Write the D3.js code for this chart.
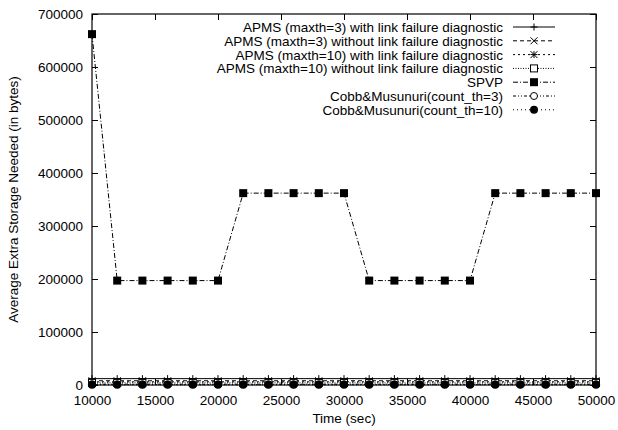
<!DOCTYPE html>
<html>
<head>
<meta charset="utf-8">
<script src="https://cdn.jsdelivr.net/npm/d3@7"></script>
<style>
  body { margin: 0; background: #fff; }
  text { font-family: "Liberation Sans", Arial, sans-serif; fill: #000; }
</style>
</head>
<body>
<svg id="chart" width="618" height="430"></svg>
<script>
var times = [10000, 12000, 14000, 16000, 18000, 20000, 22000, 24000, 26000, 28000, 30000,
             32000, 34000, 36000, 38000, 40000, 42000, 44000, 46000, 48000, 50000];

var seriesNames = ["APMS (maxth=3) with link failure diagnostic",
                   "APMS (maxth=3) without link failure diagnostic",
                   "APMS (maxth=10) with link failure diagnostic",
                   "APMS (maxth=10) without link failure diagnostic",
                   "SPVP",
                   "Cobb&Musunuri(count_th=3)",
                   "Cobb&Musunuri(count_th=10)"];

var apms3With = [12000, 12000, 12000, 12000, 12000, 12000, 12000, 12000, 12000, 12000, 12000,
                 12000, 12000, 12000, 12000, 12000, 12000, 12000, 12000, 12000, 12000];
var apms3Without = [8000, 8000, 8000, 8000, 8000, 8000, 8000, 8000, 8000, 8000, 8000,
                    8000, 8000, 8000, 8000, 8000, 8000, 8000, 8000, 8000, 8000];
var apms10With = [6000, 6000, 6000, 6000, 6000, 6000, 6000, 6000, 6000, 6000, 6000,
                  6000, 6000, 6000, 6000, 6000, 6000, 6000, 6000, 6000, 6000];
var apms10Without = [4000, 4000, 4000, 4000, 4000, 4000, 4000, 4000, 4000, 4000, 4000,
                     4000, 4000, 4000, 4000, 4000, 4000, 4000, 4000, 4000, 4000];
var spvp = [662000, 197000, 197000, 197000, 197000, 197000, 362000, 362000, 362000, 362000, 362000,
            197000, 197000, 197000, 197000, 197000, 362000, 362000, 362000, 362000, 362000];
var cobb3 = [1500, 1500, 1500, 1500, 1500, 1500, 1500, 1500, 1500, 1500, 1500,
             1500, 1500, 1500, 1500, 1500, 1500, 1500, 1500, 1500, 1500];
var cobb10 = [500, 500, 500, 500, 500, 500, 500, 500, 500, 500, 500,
              500, 500, 500, 500, 500, 500, 500, 500, 500, 500];

var xTicks = [10000, 15000, 20000, 25000, 30000, 35000, 40000, 45000, 50000];
var yTicks = [0, 100000, 200000, 300000, 400000, 500000, 600000, 700000];

var allValues = [apms3With, apms3Without, apms10With, apms10Without, spvp, cobb3, cobb10];
var dashes = ["", "4,3", "2,3", "1,1.5", "5,2,1,2", "3,2,1,2,1,2", "1,3"];
var markers = ["plus", "cross", "star", "openSquare", "fillSquare", "openCircle", "fillCircle"];

var margin = {left: 92, right: 22, top: 14, bottom: 45};
var width = 618, height = 430;

var svg = d3.select("#chart");

var x = d3.scaleLinear().domain([10000, 50000]).range([margin.left, width - margin.right]);
var y = d3.scaleLinear().domain([0, 700000]).range([height - margin.bottom, margin.top]);
var fmt = d3.format("d");

// axes (ticks mirrored on all four sides, gnuplot style)
svg.append("g")
  .attr("transform", "translate(0," + (height - margin.bottom) + ")")
  .call(d3.axisBottom(x).tickValues(xTicks).tickFormat(fmt).tickSizeInner(-6).tickSizeOuter(0).tickPadding(10))
  .call(g => g.select(".domain").remove());
svg.append("g")
  .attr("transform", "translate(0," + margin.top + ")")
  .call(d3.axisTop(x).tickValues(xTicks).tickSizeInner(-6).tickSizeOuter(0).tickFormat(""))
  .call(g => g.select(".domain").remove());
svg.append("g")
  .attr("transform", "translate(" + margin.left + ",0)")
  .call(d3.axisLeft(y).tickValues(yTicks).tickFormat(fmt).tickSizeInner(-6).tickSizeOuter(0).tickPadding(9))
  .call(g => g.select(".domain").remove());
svg.append("g")
  .attr("transform", "translate(" + (width - margin.right) + ",0)")
  .call(d3.axisRight(y).tickValues(yTicks).tickSizeInner(-6).tickSizeOuter(0).tickFormat(""))
  .call(g => g.select(".domain").remove());

svg.selectAll(".tick text").style("font-size", "13.5px").style("font-family", "Liberation Sans, Arial, sans-serif");
svg.selectAll(".tick line").attr("stroke", "#000");

svg.append("rect")
  .attr("x", margin.left).attr("y", margin.top)
  .attr("width", width - margin.left - margin.right)
  .attr("height", height - margin.top - margin.bottom)
  .attr("fill", "none").attr("stroke", "#000").attr("stroke-width", 1.2);

svg.append("text")
  .attr("x", (margin.left + width - margin.right) / 2)
  .attr("y", 423)
  .attr("text-anchor", "middle")
  .style("font-size", "13.5px")
  .text("Time (sec)");

svg.append("text")
  .attr("transform", "translate(18," + ((margin.top + height - margin.bottom) / 2) + ") rotate(-90)")
  .attr("text-anchor", "middle")
  .style("font-size", "13.5px")
  .text("Average Extra Storage Needed (in bytes)");

function drawMarker(g, type, cx, cy) {
  var s = 3.5;
  if (type == "plus") {
    g.append("path").attr("d", "M" + (cx - s) + "," + cy + "H" + (cx + s) + "M" + cx + "," + (cy - s) + "V" + (cy + s))
      .attr("stroke", "#000").attr("stroke-width", 1);
  } else if (type == "cross") {
    g.append("path").attr("d", "M" + (cx - s) + "," + (cy - s) + "L" + (cx + s) + "," + (cy + s) + "M" + (cx - s) + "," + (cy + s) + "L" + (cx + s) + "," + (cy - s))
      .attr("stroke", "#000").attr("stroke-width", 1);
  } else if (type == "star") {
    g.append("path").attr("d", "M" + (cx - s) + "," + cy + "H" + (cx + s) + "M" + cx + "," + (cy - s) + "V" + (cy + s) +
        "M" + (cx - s) + "," + (cy - s) + "L" + (cx + s) + "," + (cy + s) + "M" + (cx - s) + "," + (cy + s) + "L" + (cx + s) + "," + (cy - s))
      .attr("stroke", "#000").attr("stroke-width", 1);
  } else if (type == "openSquare") {
    g.append("rect").attr("x", cx - s).attr("y", cy - s).attr("width", 2 * s).attr("height", 2 * s)
      .attr("fill", "#fff").attr("stroke", "#000").attr("stroke-width", 1);
  } else if (type == "fillSquare") {
    g.append("rect").attr("x", cx - s - 0.5).attr("y", cy - s - 0.5).attr("width", 2 * s + 1).attr("height", 2 * s + 1)
      .attr("fill", "#000");
  } else if (type == "openCircle") {
    g.append("circle").attr("cx", cx).attr("cy", cy).attr("r", s)
      .attr("fill", "#fff").attr("stroke", "#000").attr("stroke-width", 1);
  } else {
    g.append("circle").attr("cx", cx).attr("cy", cy).attr("r", s + 0.5).attr("fill", "#000");
  }
}

var line = d3.line().x(d => x(d[0])).y(d => y(d[1]));

allValues.forEach(function(vals, i) {
  var pts = times.map((t, j) => [t, vals[j]]);
  var g = svg.append("g");
  g.append("path").datum(pts)
    .attr("d", line)
    .attr("fill", "none")
    .attr("stroke", "#000")
    .attr("stroke-width", 1)
    .attr("stroke-dasharray", dashes[i]);
  pts.forEach(p => drawMarker(g, markers[i], x(p[0]), y(p[1])));
});

// legend
var legX = 503, legY = 27, legStep = 13.8;
seriesNames.forEach(function(name, i) {
  var ly = legY + i * legStep;
  var g = svg.append("g");
  g.append("text")
    .attr("x", legX).attr("y", ly + 5)
    .attr("text-anchor", "end")
    .style("font-size", "13.5px")
    .text(name);
  g.append("line")
    .attr("x1", legX + 10).attr("x2", legX + 52)
    .attr("y1", ly).attr("y2", ly)
    .attr("stroke", "#000").attr("stroke-width", 1)
    .attr("stroke-dasharray", dashes[i]);
  drawMarker(g, markers[i], legX + 31, ly);
});
</script>
</body>
</html>
